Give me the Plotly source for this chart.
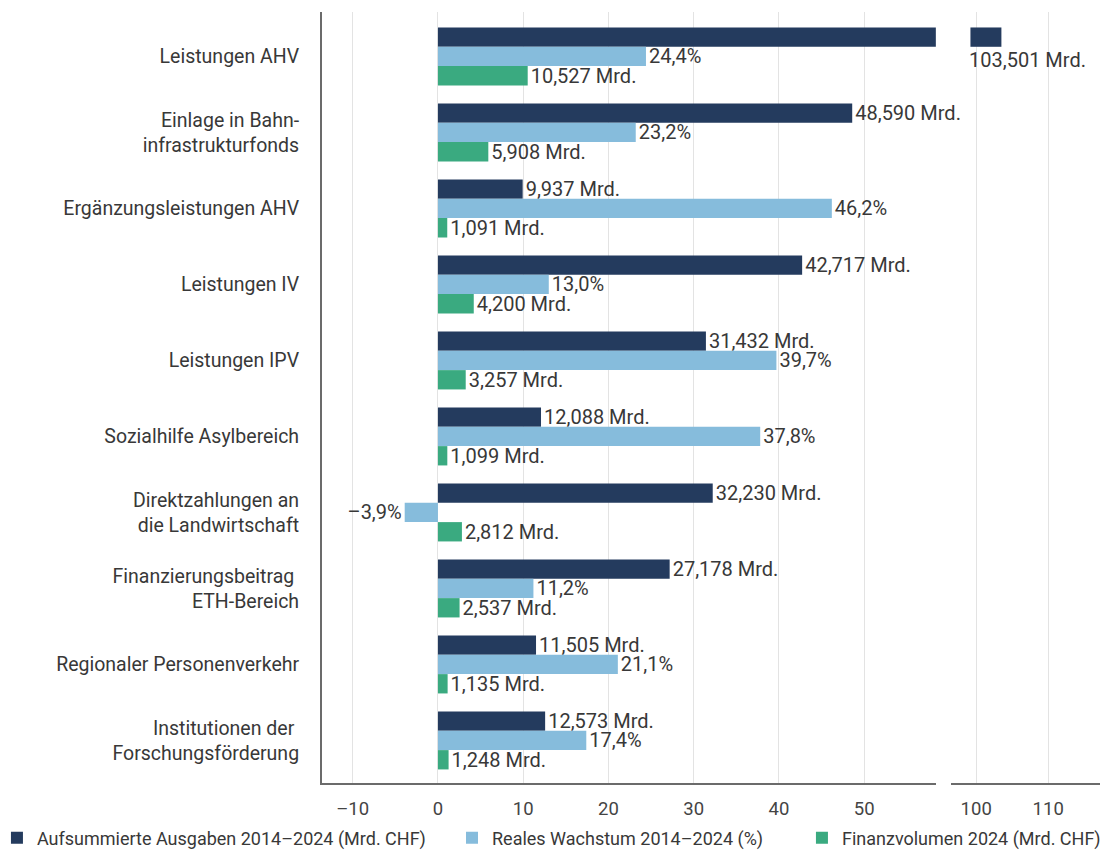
import plotly.graph_objects as go

# categories (top to bottom)
categories = [
    "Leistungen AHV",
    "Einlage in Bahn-<br>infrastrukturfonds",
    "Ergänzungsleistungen AHV",
    "Leistungen IV",
    "Leistungen IPV",
    "Sozialhilfe Asylbereich",
    "Direktzahlungen an<br>die Landwirtschaft",
    "Finanzierungsbeitrag <br>ETH-Bereich",
    "Regionaler Personenverkehr",
    "Institutionen der <br>Forschungsförderung",
]

# Aufsummierte Ausgaben 2014-2024 (Mrd. CHF)
ausgaben = [103.501, 48.590, 9.937, 42.717, 31.432, 12.088, 32.230, 27.178, 11.505, 12.573]
# Reales Wachstum 2014-2024 (%)
wachstum = [24.4, 23.2, 46.2, 13.0, 39.7, 37.8, -3.9, 11.2, 21.1, 17.4]
# Finanzvolumen 2024 (Mrd. CHF)
volumen = [10.527, 5.908, 1.091, 4.200, 3.257, 1.099, 2.812, 2.537, 1.135, 1.248]

names = [
    "Aufsummierte Ausgaben 2014–2024 (Mrd. CHF)",
    "Reales Wachstum 2014–2024 (%)",
    "Finanzvolumen 2024 (Mrd. CHF)",
]
colors = ["#243b5e", "#86bcdc", "#3aaa80"]

left_ticks = [-10, 0, 10, 20, 30, 40, 50]
right_ticks = [100, 110]

# broken axis
LEFT_RANGE = [-13.6, 58.4]
RIGHT_RANGE = [96.5, 117.2]
RESUME = 99.2  # where the cut bar continues on the right part

FONT = "Roboto"
TXT = "#383838"
LABEL_SIZE = 20


def de_num(v, digits):
    s = f"{abs(v):.{digits}f}".replace(".", ",")
    return ("–" + s) if v < 0 else s


def mrd(v):
    return de_num(v, 3) + " Mrd."


fig = go.Figure()

# left part
ausgaben_txt = [mrd(v) if v <= LEFT_RANGE[1] else "" for v in ausgaben]
series = [
    (ausgaben, ausgaben_txt),
    (wachstum, [de_num(v, 1) + "%" for v in wachstum]),
    (volumen, [mrd(v) for v in volumen]),
]
legend_ids = ["legend", "legend2", "legend3"]
for (vals, txt), name, col, lg in zip(series, names, colors, legend_ids):
    fig.add_trace(go.Bar(
        y=categories, x=vals, orientation="h", name=name,
        marker=dict(color=col, line_width=0),
        text=txt, textposition="outside", constraintext="none",
        cliponaxis=False,
        textfont=dict(family=FONT, size=LABEL_SIZE, color=TXT),
        xaxis="x", yaxis="y", legend=lg,
    ))

# right part (only the bar that exceeds the break)
right_vals = [v - RESUME if v > RIGHT_RANGE[0] else None for v in ausgaben]
for i, (name, col) in enumerate(zip(names, colors)):
    if i == 0:
        xs, base = right_vals, RESUME
    else:
        xs, base = [0] * len(categories), None
    fig.add_trace(go.Bar(
        y=categories, x=xs, base=base, orientation="h", name=name,
        marker=dict(color=col, line_width=0), showlegend=False,
        hoverinfo="skip", xaxis="x2", yaxis="y",
    ))

fig.add_annotation(
    x=RESUME, y=0, xref="x2", yref="y", xanchor="left", yanchor="middle",
    yshift=-4, xshift=-3, showarrow=False, text=mrd(ausgaben[0]),
    font=dict(family=FONT, size=LABEL_SIZE, color=TXT),
)

axis_common = dict(
    showgrid=True, gridcolor="#e3e3e3", gridwidth=1, zeroline=False,
    showline=True, linecolor="#6b6b6b", linewidth=2,
    ticks="outside", ticklen=8, tickcolor="rgba(0,0,0,0)",
    tickfont=dict(family=FONT, size=18.5, color="#444"),
    fixedrange=True, automargin=False,
)

legend_common = dict(
    orientation="h", yref="paper", y=-0.0713, xanchor="left",
    yanchor="middle", font=dict(family=FONT, size=18, color=TXT),
    itemwidth=30, bgcolor="rgba(0,0,0,0)",
)

# page body has an 8px margin, so the figure is 8px smaller on each axis
fig.update_layout(
    width=1103, height=847,
    margin=dict(l=314, r=11, t=4, b=72, autoexpand=False),
    paper_bgcolor="white", plot_bgcolor="white",
    barmode="group", bargap=0.237, bargroupgap=0,
    xaxis=dict(domain=[0, 0.789], range=LEFT_RANGE, tickvals=left_ticks,
               ticktext=[de_num(t, 0) for t in left_ticks], anchor="y",
               **axis_common),
    xaxis2=dict(domain=[0.8085, 1], range=RIGHT_RANGE, tickvals=right_ticks,
                ticktext=[str(t) for t in right_ticks], anchor="y",
                **axis_common),
    yaxis=dict(categoryorder="array", categoryarray=categories,
               range=[9.56, -0.585], showgrid=False, zeroline=False,
               showline=True, linecolor="#6b6b6b", linewidth=2,
               ticks="outside", ticklen=17, tickcolor="rgba(0,0,0,0)",
               tickfont=dict(family=FONT, size=19.5, color=TXT),
               anchor="x", fixedrange=True, automargin=False),
    legend=dict(x=-0.4178, **legend_common),
    legend2=dict(x=0.1671, **legend_common),
    legend3=dict(x=0.6169, **legend_common),
    showlegend=True,
)

fig.write_html("out.html")
